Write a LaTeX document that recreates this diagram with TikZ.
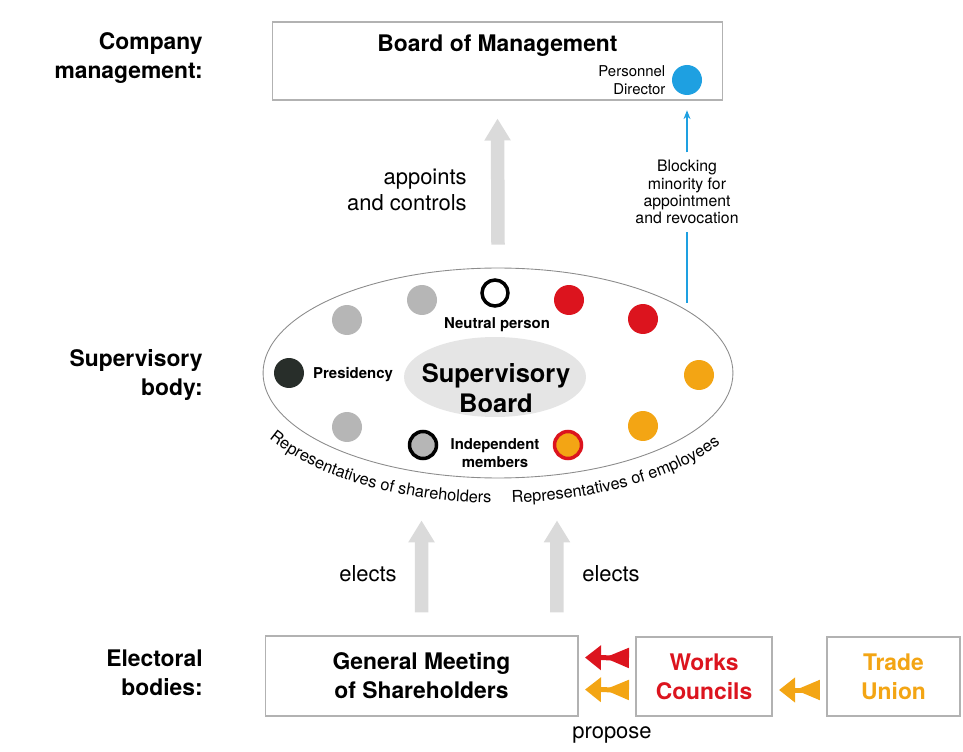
\documentclass[tikz,border=0pt]{standalone}
\usepackage{fontspec}
\setmainfont{TeX Gyre Heros}
\usetikzlibrary{positioning,arrows.meta,decorations.text,shapes.geometric}

\definecolor{wred}{RGB}{220,20,30}
\definecolor{tuorange}{RGB}{243,165,20}
\definecolor{dirblue}{RGB}{30,160,225}
\definecolor{shgray}{RGB}{182,182,182}
\definecolor{arrgray}{RGB}{218,218,218}
\definecolor{presdark}{RGB}{40,46,42}

\tikzset{
  box/.style={draw=black!30,line width=0.6pt,fill=white,align=center,font=\bfseries\fontsize{13}{16.5}\selectfont},
  sidelbl/.style={anchor=east,align=right,inner sep=0pt,font=\bfseries\fontsize{13}{16.5}\selectfont},
  dot/.style={circle,minimum size=0.6cm,inner sep=0pt},
  smallbf/.style={font=\bfseries\fontsize{8.5}{10.5}\selectfont,align=center,inner sep=0pt},
  txt/.style={font=\fontsize{12.5}{14.5}\selectfont,align=center,inner sep=0pt},
  bigarr/.style={arrgray,line width=0.27cm,-{Triangle[length=0.44cm,width=0.5cm]}},
  dblarr/.style={line width=0.1cm,{Triangle[reversed,length=0.5cm,width=0.38cm]}-{Triangle[length=0.32cm,width=0.48cm]},shorten <=0.13cm,shorten >=0.13cm},
  curvtxt/.style={decorate,decoration={text along path,text align=center,text={|\fontsize{9.3}{11}\selectfont|#1}}}
}

\begin{document}
\begin{tikzpicture}[x=0.02cm,y=0.02cm]
\useasboundingbox (0,0) rectangle (963,751);

% management
\node[box,minimum width=9.02cm,minimum height=1.56cm] (bom) at (497.5,690) {};
\node[box,draw=none,fill=none,inner sep=0pt] (bomt) at (497.5,705) {Board of Management};
\node[dot,fill=dirblue] (pdir) at (687,671) {};
\node[left=0.12cm of pdir,align=right,inner sep=0pt,font=\fontsize{8.5}{10}\selectfont] (pdirt) {Personnel\\Director};

% side labels
\node[sidelbl] (lmgmt) at (203,693) {Company\\management:};
\node[sidelbl] (lsup) at (203,376) {Supervisory\\body:};
\node[sidelbl] (lelec) at (203,78) {Electoral\\bodies:};

% supervisory board
\node[ellipse,draw=black!45,line width=0.5pt,fill=white,minimum width=9.4cm,minimum height=4.2cm] (sb) at (498,378) {};
\node[ellipse,fill=black!10,minimum width=3.64cm,minimum height=1.6cm] (sbin) at (495,374) {};
\node[font=\bfseries\fontsize{14.5}{17}\selectfont,align=center] (sbt) at (496,363) {Supervisory\\Board};

\node[dot,fill=shgray] (sh1) at (347,431) {};
\node[dot,fill=shgray] (sh2) at (422,451) {};
\node[dot,draw=black,line width=0.07cm,minimum size=0.52cm] (neu) at (495,458) {};
\node[dot,fill=wred] (em1) at (569,451) {};
\node[dot,fill=wred] (em2) at (643,432) {};
\node[dot,fill=tuorange] (em3) at (699,376) {};
\node[dot,fill=tuorange] (em4) at (643,325) {};
\node[dot,fill=tuorange,draw=wred,line width=0.07cm,minimum size=0.54cm] (em5) at (568,306) {};
\node[dot,fill=shgray,draw=black,line width=0.07cm,minimum size=0.54cm] (sh5) at (423,306) {};
\node[dot,fill=shgray] (sh4) at (347,324) {};
\node[dot,fill=presdark] (pres) at (289,378) {};

\node[smallbf] (neut) at (497,426) {Neutral person};
\node[smallbf] (prest) at (353,376) {Presidency};
\node[smallbf] (indt) at (495,298) {Independent\\members};

\path[curvtxt=Representatives of shareholders] (498,378) ++(198:265 and 130) arc[start angle=198,end angle=276,x radius=265,y radius=130];
\path[curvtxt=Representatives of employees] (498,378) ++(266:265 and 130) arc[start angle=266,end angle=338,x radius=265,y radius=130];

% blocking minority
\coordinate (bl) at (687,448);
\node[font=\fontsize{9}{9.8}\selectfont,align=center,inner sep=0.15cm] (blk) at (687,559) {Blocking\\minority for\\appointment\\and revocation};
\draw[dirblue,line width=0.7pt] (bl) -- (blk);
\draw[dirblue,line width=0.7pt,-{Stealth[length=5pt,width=4pt]},shorten >=0.3cm] (blk) -- (pdir);

% big arrows
\draw[bigarr] ([yshift=0.46cm]sb.north) -- ([yshift=-0.36cm]bom.south);
\node[txt,align=right,anchor=east] (appt) at (467,561) {appoints\\and controls};

% electoral bodies
\node[box,minimum width=6.26cm,minimum height=1.6cm] (gms) at (421.5,75) {General Meeting\\of Shareholders};
\node[box,minimum width=2.72cm,minimum height=1.58cm,text=wred] (wc) at (704,74.5) {Works\\Councils};
\node[box,minimum width=2.66cm,minimum height=1.58cm,text=tuorange] (tu) at (893.5,74.5) {Trade\\Union};

\draw[bigarr] ([yshift=0.46cm]gms.north) -- ([xshift=-1.53cm,yshift=-0.84cm]sb.south);
\draw[bigarr] ([xshift=2.71cm,yshift=0.46cm]gms.north) -- ([xshift=1.18cm,yshift=-0.84cm]sb.south);
\node[txt,anchor=east] (el1) at (397,177) {elects};
\node[txt,anchor=west] (el2) at (582,177) {elects};

\draw[dblarr,wred] ([yshift=0.37cm]wc.west) -- ([yshift=0.37cm]gms.east);
\draw[dblarr,tuorange] ([yshift=-0.27cm]wc.west) -- ([yshift=-0.27cm]gms.east);
\draw[dblarr,tuorange] ([yshift=-0.27cm]tu.west) -- ([yshift=-0.27cm]wc.east);
\node[txt] (prop) at (612,16) {propose};
\end{tikzpicture}
\end{document}
